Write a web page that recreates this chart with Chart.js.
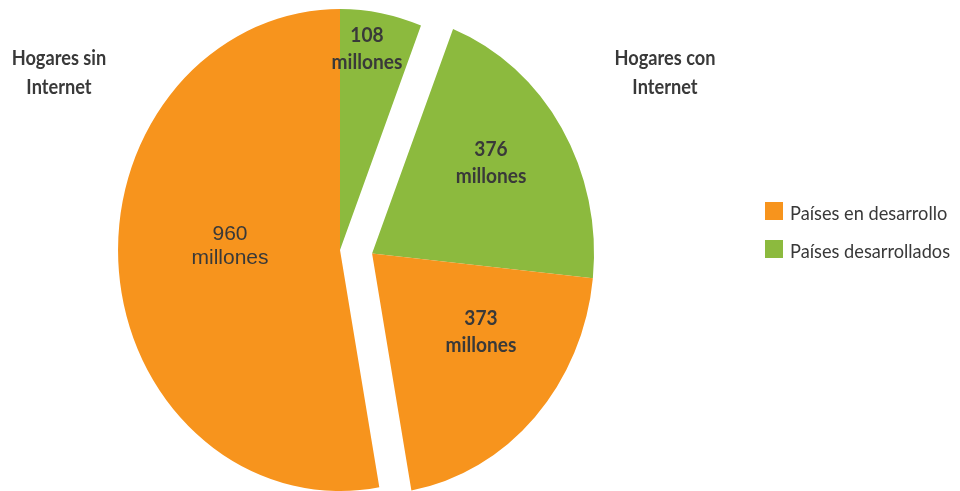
<!DOCTYPE html>
<html>
<head>
<meta charset="utf-8">
<script src="https://cdn.jsdelivr.net/npm/chart.js@4.4.1/dist/chart.umd.min.js"></script>
<style>
    html, body { margin: 0; padding: 0; background: #fff; }
    canvas { display: block; }
</style>
</head>
<body>
<canvas id="grafico" width="960" height="491"></canvas>
<script>
// hogares (millones), porciones desde las 12 en sentido horario
var valores = [108, 376, 373, 960];
var tipoPais = [1, 1, 0, 0];     // indice en categorias
var grupoHogar = [0, 1, 1, 0];   // 0 = sin Internet, 1 = con Internet
var unidad = 'millones';
var categorias = ['Países en desarrollo', 'Países desarrollados'];
var grupos = [['Hogares sin', 'Internet'], ['Hogares con', 'Internet']];
var colores = ['#F7941D', '#8CBA3E'];

var ESCALA_X = 0.921;   // la torta se ve un poco angosta
var SEPARACION = 35;    // desplazamiento del grupo "con Internet"
var ANGOSTO = 0.91;     // letra condensada
var colorTexto = '#393939';
var fuente = "Lato, 'DejaVu Sans Condensed', sans-serif";

// donde va cada etiqueta: fraccion del radio y giro respecto al medio de la porcion
var posEtiqueta = [
    {f: 0.847, giro: -2.45},
    {f: 0.656, giro: -3.9},
    {f: 0.587, giro: -9.5},
    {f: 0.496, giro: 7.5}
];
var fuenteEtiqueta = [
    {font: 'bold 21px ' + fuente, sx: ANGOSTO, l1: -6, l2: 21},
    {font: 'bold 21px ' + fuente, sx: ANGOSTO, l1: -6, l2: 21},
    {font: 'bold 21px ' + fuente, sx: ANGOSTO, l1: -6, l2: 21},
    {font: "21px 'Liberation Sans', Arial, sans-serif", sx: 1, l1: -5, l2: 19}
];
var posGrupo = [{x: 59, y: 65}, {x: 665, y: 65}];

function centroX(chart) {
    return (chart.chartArea.left + chart.chartArea.right) / 2;
}

// texto con ancho reducido (sx) anclado en x
function texto(ctx, s, x, y, sx) {
    ctx.save();
    ctx.translate(x, y);
    ctx.scale(sx, 1);
    ctx.fillText(s, 0, 0);
    ctx.restore();
}

var separarGrupo = {
    id: 'separarGrupo',
    afterDatasetsUpdate: function(chart) {
        var arcs = chart.getDatasetMeta(0).data;
        var ini = null, fin = null;
        for (var i = 0; i < arcs.length; i++) {
            if (grupoHogar[i] != 1) continue;
            if (ini === null) ini = arcs[i].startAngle;
            fin = arcs[i].endAngle;
        }
        var medio = (ini + fin) / 2;
        var dx = Math.cos(medio) * SEPARACION;
        var dy = Math.sin(medio) * SEPARACION;
        for (var j = 0; j < arcs.length; j++) {
            if (grupoHogar[j] == 1) {
                arcs[j].x += dx;
                arcs[j].y += dy;
            }
        }
    },
    beforeDatasetsDraw: function(chart) {
        var ctx = chart.ctx;
        var cx = centroX(chart);
        ctx.save();
        ctx.translate(cx, 0);
        ctx.scale(ESCALA_X, 1);
        ctx.translate(-cx, 0);
    },
    afterDatasetsDraw: function(chart) {
        chart.ctx.restore();
    }
};

var textos = {
    id: 'textos',
    afterDraw: function(chart) {
        var ctx = chart.ctx;
        var cx = centroX(chart);
        var arcs = chart.getDatasetMeta(0).data;
        ctx.save();
        ctx.fillStyle = colorTexto;
        ctx.textAlign = 'center';
        ctx.textBaseline = 'alphabetic';

        // valores dentro de cada porcion
        for (var i = 0; i < arcs.length; i++) {
            var a = arcs[i];
            var p = posEtiqueta[i];
            var ang = (a.startAngle + a.endAngle) / 2 + p.giro * Math.PI / 180;
            var px = a.x + Math.cos(ang) * a.outerRadius * p.f;
            var py = a.y + Math.sin(ang) * a.outerRadius * p.f;
            px = cx + (px - cx) * ESCALA_X;
            var fe = fuenteEtiqueta[i];
            ctx.font = fe.font;
            texto(ctx, String(valores[i]), px, py + fe.l1, fe.sx);
            texto(ctx, unidad, px, py + fe.l2, fe.sx);
        }

        // titulos de los grupos
        ctx.font = 'bold 20px ' + fuente;
        for (var g = 0; g < grupos.length; g++) {
            texto(ctx, grupos[g][0], posGrupo[g].x, posGrupo[g].y, ANGOSTO);
            texto(ctx, grupos[g][1], posGrupo[g].x, posGrupo[g].y + 29, ANGOSTO);
        }

        // leyenda
        ctx.textAlign = 'left';
        ctx.font = '20px ' + fuente;
        for (var k = 0; k < categorias.length; k++) {
            var y = 202 + k * 38;
            ctx.fillStyle = colores[k];
            ctx.fillRect(765, y, 18, 18);
            ctx.fillStyle = colorTexto;
            texto(ctx, categorias[k], 790, y + 18, ANGOSTO);
        }
        ctx.restore();
    }
};

var ctx = document.getElementById('grafico').getContext('2d');
var grafico = new Chart(ctx, {
    type: 'pie',
    data: {
        labels: valores.map(function(v) { return v + ' ' + unidad; }),
        datasets: [{
            data: valores,
            backgroundColor: tipoPais.map(function(t) { return colores[t]; }),
            borderWidth: 0
        }]
    },
    options: {
        responsive: false,
        animation: false,
        events: [],
        layout: {
            padding: {left: 99, right: 379, top: 9, bottom: 0}
        },
        plugins: {
            legend: {display: false},
            tooltip: {enabled: false}
        }
    },
    plugins: [separarGrupo, textos]
});
</script>
</body>
</html>
